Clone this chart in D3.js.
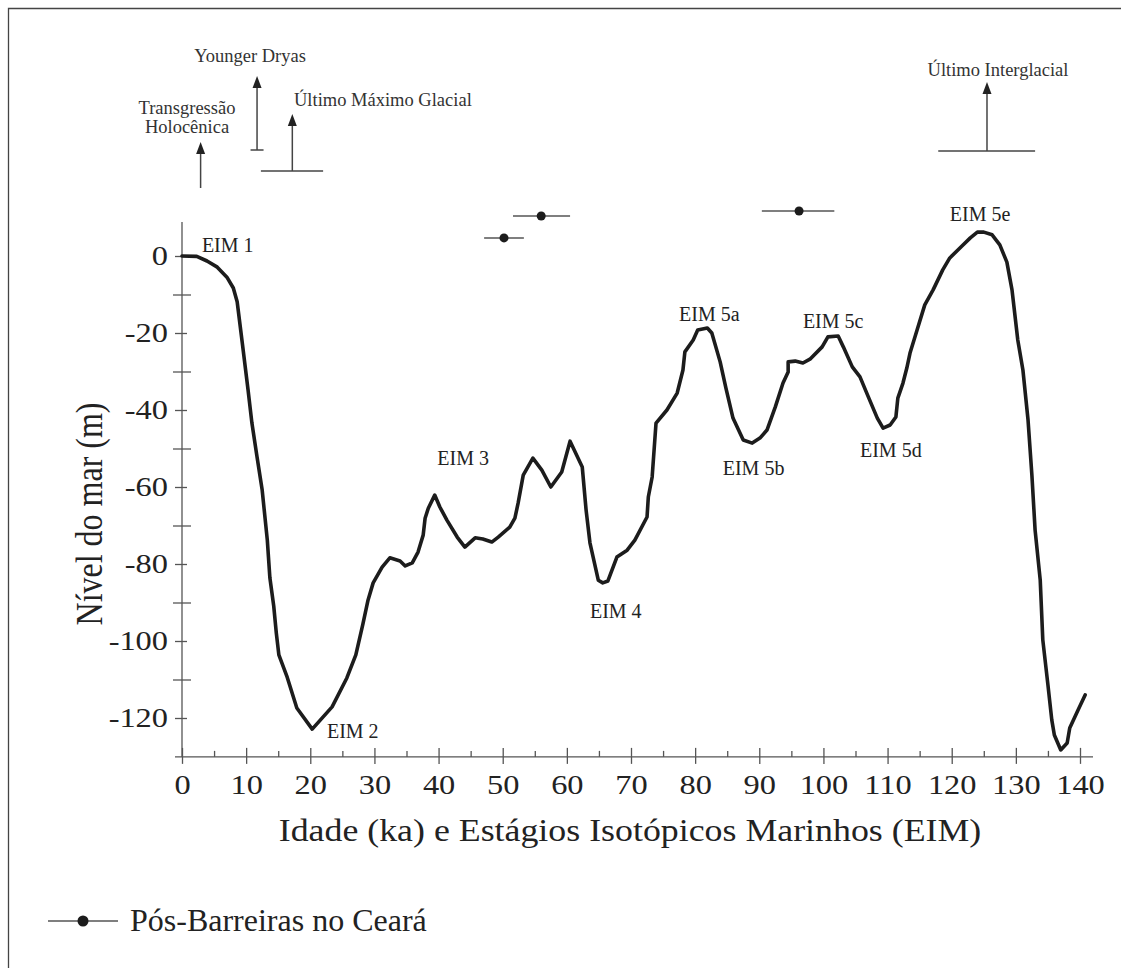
<!DOCTYPE html>
<html>
<head>
<meta charset="utf-8">
<script src="https://cdn.jsdelivr.net/npm/d3@7"></script>
<style>
  body { margin: 0; background: #fff; }
  svg { display: block; }
  svg text { font-family: "Liberation Serif", "Times New Roman", serif; }
</style>
</head>
<body>
<svg class="chart" width="1121" height="968"></svg>
<script>
// sea level curve (ka, m)
const ages = [0, 2.3, 3.9, 5.5, 7.0, 8.0, 8.6, 9.4, 10.3, 10.9, 11.7, 12.5, 13.3, 13.7, 14.3, 14.7, 15.1, 16.4, 17.9, 20.3,
  23.4, 25.7, 27.1, 28.2, 29.0, 29.8, 31.2, 32.4, 34.0, 34.8, 35.9, 36.8, 37.6, 37.9, 38.4, 39.4, 40.2, 41.3, 42.9, 44.1,
  45.7, 46.9, 48.3, 49.3, 51.1, 51.9, 52.4, 53.2, 54.7, 56.1, 57.5, 59.2, 60.5, 62.4, 63.0, 63.6, 64.9, 65.6, 66.4, 67.8,
  69.4, 70.6, 72.5, 72.7, 73.3, 73.9, 75.6, 77.2, 78.1, 78.4, 79.7, 80.4, 81.9, 82.6, 83.9, 84.8, 85.9, 87.5, 88.9, 90.1,
  91.2, 92.5, 93.7, 94.5, 94.5, 95.6, 96.8, 97.9, 99.8, 100.7, 102.3, 103.1, 104.5, 105.7, 107.0, 108.4, 109.3, 110.4, 111.3, 111.6,
  112.4, 113.0, 113.5, 114.6, 115.8, 117.1, 118.6, 119.7, 121.6, 122.9, 124.0, 125.0, 126.3, 127.5, 128.6, 129.4, 130.3, 131.1, 131.9, 132.5,
  133.0, 133.8, 134.2, 135.0, 135.6, 136.0, 137.0, 138.0, 138.4, 139.7, 140.8];
const levels = [0, -0.1, -1.3, -2.9, -5.5, -8.3, -11.9, -22.6, -34.8, -43.4, -52.2, -60.8, -73.8, -83.6, -90.9, -97.9, -103.6, -109.4, -117.4, -122.9,
  -117.1, -109.6, -103.6, -95.6, -89.4, -84.9, -80.8, -78.4, -79.2, -80.5, -79.7, -76.9, -72.5, -68.1, -65.5, -62.1, -65.2, -68.6, -73.0, -75.6,
  -73.2, -73.5, -74.3, -73.0, -70.4, -68.1, -64.2, -56.9, -52.5, -55.6, -60.0, -56.1, -48.1, -54.8, -66.0, -74.5, -84.2, -84.9, -84.4, -78.2,
  -76.4, -73.8, -67.8, -62.6, -57.4, -43.4, -40.0, -35.6, -29.6, -24.9, -21.8, -19.2, -18.7, -20.0, -27.5, -34.3, -42.1, -47.8, -48.6, -47.3,
  -45.2, -39.2, -33.0, -30.1, -27.5, -27.3, -27.8, -26.8, -23.6, -21.0, -20.8, -23.6, -28.8, -31.4, -36.6, -42.1, -44.7, -43.9, -41.8, -36.9,
  -33.0, -29.1, -25.2, -19.2, -12.7, -8.8, -3.6, -0.5, 2.6, 4.7, 6.2, 6.2, 5.5, 2.9, -1.6, -8.8, -21.8, -29.6, -42.6, -56.9,
  -71.2, -84.2, -99.7, -111.4, -120.5, -124.4, -128.3, -126.5, -122.6, -117.9, -114.0];

// Pós-Barreiras no Ceará: age, age range, level
const pbAge = [50.2, 56.0, 96.2];
const pbMin = [47.1, 51.6, 90.4];
const pbMax = [53.3, 60.5, 101.7];
const pbLevel = [4.7, 10.4, 11.7];

// marine isotope stage labels (anchor at ka, m)
const eimNames = ['EIM 1', 'EIM 2', 'EIM 3', 'EIM 4', 'EIM 5a', 'EIM 5b', 'EIM 5c', 'EIM 5d', 'EIM 5e'];
const eimAge = [3.1, 22.6, 39.8, 63.6, 77.5, 84.3, 96.8, 105.7, 119.7];
const eimLevel = [1.0, -125.2, -54.3, -94.0, -16.9, -56.9, -18.7, -52.2, 9.1];

// events above the chart
const eventNames = [['Transgressão', 'Holocênica'], ['Younger Dryas'], ['Último Máximo Glacial'], ['Último Interglacial']];
const eventAge = [2.9, 11.7, 17.2, 125.5];
const eventFrom = [null, null, 12.3, 117.9];
const eventTo = [null, null, 22.0, 133.0];

const xMajor = d3.range(0, 141, 10);
const xMinor = d3.range(5, 140, 10);
const yMajor = [0, -20, -40, -60, -80, -100, -120];
const yMinor = [-10, -30, -50, -70, -90, -110];

const svg = d3.select('.chart');
const ink = '#1c1c1c', axisCol = '#555', txt = '#222';
const sx = 1.2; // the figure's lettering is a bit wider than normal

const x = d3.scaleLinear().domain([0, 140]).range([182, 1080]);
const y = d3.scaleLinear().domain([0, -120]).range([256, 718]);
const yLow = -130.1, yHigh = 8.8;
const baseY = y(yLow);

// frame (cropped figure box)
svg.append('path')
  .attr('d', 'M8.5,968 V8.5 H1121')
  .attr('fill', 'none').attr('stroke', '#444').attr('stroke-width', 1.3);

// x axis
const gx = svg.append('g').attr('transform', `translate(0,${baseY})`);
const xLab = gx.append('g').call(d3.axisBottom(x).tickValues(xMajor).tickSize(7).tickPadding(11).tickFormat(d => d));
gx.append('g').call(d3.axisTop(x).tickValues(xMajor).tickSize(9).tickFormat(''));
gx.append('g').call(d3.axisTop(x).tickValues(xMinor).tickSize(6).tickFormat(''));
gx.selectAll('.domain').remove();
gx.append('line').attr('x1', 175).attr('x2', 1093).attr('stroke', axisCol).attr('stroke-width', 1.3);
xLab.selectAll('text').attr('transform', `scale(${sx},1)`);

// y axis
const gy = svg.append('g').attr('transform', `translate(${x(0)},0)`);
const yLab = gy.append('g').call(d3.axisLeft(y).tickValues(yMajor).tickSize(7).tickPadding(7).tickFormat(d => String(d)));
gy.append('g').call(d3.axisRight(y).tickValues(yMajor).tickSize(5).tickFormat(''));
gy.append('g').call(d3.axisLeft(y).tickValues(yMinor).tickSize(9).tickFormat(''));
gy.append('g').call(d3.axisRight(y).tickValues(yMinor).tickSize(9).tickFormat(''));
gy.selectAll('.domain').remove();
gy.append('line').attr('y1', y(yHigh)).attr('y2', baseY).attr('stroke', axisCol).attr('stroke-width', 1.3);
yLab.selectAll('text').attr('x', -14 / sx).attr('transform', `scale(${sx},1)`);

svg.selectAll('.tick line').attr('stroke', axisCol).attr('stroke-width', 1.3);
svg.selectAll('.tick text').attr('fill', txt).attr('font-size', 27);

// axis titles
svg.append('text')
  .attr('transform', `translate(630,841) scale(1.12,1)`)
  .attr('text-anchor', 'middle').attr('font-size', 32).attr('fill', txt)
  .text('Idade (ka) e Estágios Isotópicos Marinhos (EIM)');
svg.append('text')
  .attr('transform', `translate(102,514) rotate(-90) scale(1,${sx})`)
  .attr('text-anchor', 'middle').attr('font-size', 32).attr('fill', txt)
  .text('Nível do mar (m)');

// curve
const pts = ages.map((a, i) => [a, levels[i]]);
svg.append('path')
  .attr('d', d3.line().x(d => x(d[0])).y(d => y(d[1]))(pts))
  .attr('fill', 'none').attr('stroke', ink).attr('stroke-width', 3.6)
  .attr('stroke-linejoin', 'round').attr('stroke-linecap', 'round');

// EIM labels
svg.append('g').selectAll('text').data(eimNames).join('text')
  .attr('x', (d, i) => x(eimAge[i])).attr('y', (d, i) => y(eimLevel[i]))
  .attr('font-size', 20).attr('fill', txt)
  .text(d => d);

// Pós-Barreiras ages
const pb = svg.append('g').selectAll('g').data(pbAge).join('g');
pb.append('line')
  .attr('x1', (d, i) => x(pbMin[i])).attr('x2', (d, i) => x(pbMax[i]))
  .attr('y1', (d, i) => y(pbLevel[i])).attr('y2', (d, i) => y(pbLevel[i]))
  .attr('stroke', '#555').attr('stroke-width', 1.5);
pb.append('circle')
  .attr('cx', d => x(d)).attr('cy', (d, i) => y(pbLevel[i])).attr('r', 4.5)
  .attr('fill', ink);

// event arrows
const arrowTop = [142, 76, 114, 82];
const arrowBottom = [188, 150, 171, 151];
const textBase = [114, 62, 106, 76];
const ev = svg.append('g').attr('stroke', '#444').attr('fill', '#222');
eventAge.forEach((a, i) => {
  const ax = x(a);
  ev.append('line').attr('x1', ax).attr('x2', ax)
    .attr('y1', arrowTop[i] + 10).attr('y2', arrowBottom[i]).attr('stroke-width', 1.5);
  ev.append('path')
    .attr('d', `M${ax},${arrowTop[i]} L${ax - 4.5},${arrowTop[i] + 12} L${ax + 4.5},${arrowTop[i] + 12} Z`)
    .attr('stroke', 'none');
  if (eventFrom[i] != null) {
    ev.append('line').attr('x1', x(eventFrom[i])).attr('x2', x(eventTo[i]))
      .attr('y1', arrowBottom[i]).attr('y2', arrowBottom[i]).attr('stroke-width', 1.5);
  }
});
// Younger Dryas end cap
ev.append('line').attr('x1', x(eventAge[1]) - 6.5).attr('x2', x(eventAge[1]) + 6.5)
  .attr('y1', arrowBottom[1]).attr('y2', arrowBottom[1]).attr('stroke-width', 1.5);

const evText = svg.append('g').attr('font-size', 18.5).attr('fill', '#333');
evText.append('text').attr('x', 187).attr('y', textBase[0]).attr('text-anchor', 'middle')
  .selectAll('tspan').data(eventNames[0]).join('tspan')
  .attr('x', 187).attr('dy', (d, i) => i ? 19 : 0).text(d => d);
evText.append('text').attr('x', 250).attr('y', textBase[1]).attr('text-anchor', 'middle').text(eventNames[1][0]);
evText.append('text').attr('x', 294).attr('y', textBase[2]).text(eventNames[2][0]);
evText.append('text').attr('x', 998).attr('y', textBase[3]).attr('text-anchor', 'middle').text(eventNames[3][0]);

// legend
const lg = svg.append('g').attr('transform', 'translate(48,921)');
lg.append('line').attr('x1', 0).attr('x2', 70).attr('stroke', '#555').attr('stroke-width', 1.5);
lg.append('circle').attr('cx', 35).attr('r', 5.5).attr('fill', ink);
lg.append('text').attr('x', 82).attr('y', 10).attr('font-size', 32).attr('fill', txt)
  .text('Pós-Barreiras no Ceará');
</script>
</body>
</html>
